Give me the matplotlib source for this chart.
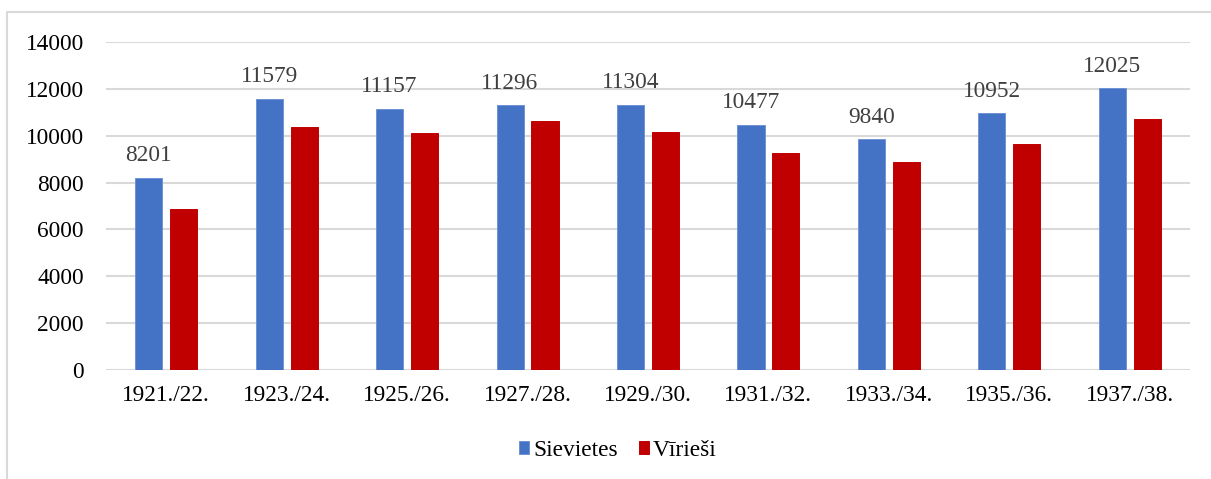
import matplotlib
matplotlib.use("Agg")
import matplotlib.pyplot as plt
from matplotlib.lines import Line2D
import numpy as np

plt.rcParams['font.family'] = ['Liberation Serif', 'DejaVu Serif']

years = ['1921./22.', '1923./24.', '1925./26.', '1927./28.', '1929./30.',
         '1931./32.', '1933./34.', '1935./36.', '1937./38.']
sievietes = [8201, 11579, 11157, 11296, 11304, 10477, 9840, 10952, 12025]
virietis = [6870, 10380, 10125, 10625, 10170, 9260, 8875, 9640, 10705]
yticks = [0, 2000, 4000, 6000, 8000, 10000, 12000, 14000]

blue = '#4472C4'
red = '#C00000'
fs = 16.8

fig = plt.figure(figsize=(12.11, 4.79), dpi=100)
ax = fig.add_axes([106/1211, 109/479, 1084/1211, 328/479])

x = np.arange(len(years))
w = 0.225
off = 0.145
ax.bar(x - off, sievietes, w, color=blue, edgecolor='#6f93d6', linewidth=0.7,
       label='Sievietes', zorder=3)
ax.bar(x + off, virietis, w, color=red, edgecolor=red, linewidth=0.7,
       label='Vīrieši', zorder=3)

# value labels over the blue bars
for xi, v in zip(x, sievietes):
    ax.annotate(str(v), (xi - off, v), xytext=(0, 12), textcoords='offset points',
                ha='center', va='baseline', fontsize=fs, color='#404040')

ax.set_xlim(-0.5, len(years) - 0.5)
ax.set_ylim(0, 14000)
ax.set_yticks(yticks)
ax.set_xticks(x)
ax.set_xticklabels(years)
ax.tick_params(axis='both', length=0, labelsize=fs, colors='black')
ax.tick_params(axis='y', pad=16)
ax.tick_params(axis='x', pad=11)
ax.grid(axis='y', color='#d9d9d9', linewidth=1.5, zorder=0)
for s in ax.spines.values():
    s.set_visible(False)

fig.legend(loc='center', bbox_to_anchor=(0.51, 0.06), ncol=2, frameon=False,
           fontsize=fs, handlelength=0.45, handleheight=0.45,
           handletextpad=0.15, columnspacing=0.9)

# chart area border (cut at right/bottom)
fig.add_artist(Line2D([7/1211, 7/1211, 1.0], [0.0, 1 - 12/479, 1 - 12/479],
                      transform=fig.transFigure, color='#d9d9d9', linewidth=1.5))

fig.savefig('out.png', dpi=100)
